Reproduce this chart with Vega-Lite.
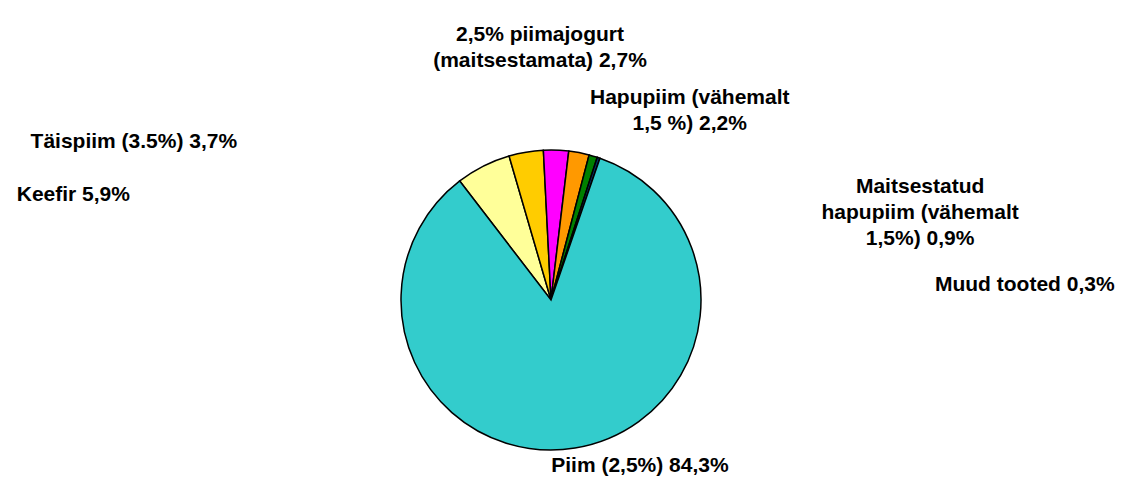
{
  "$schema": "https://vega.github.io/schema/vega-lite/v6.json",
  "width": 1102,
  "height": 354,
  "autosize": {"type": "none"},
  "padding": {"top": 123, "left": 0, "right": 21, "bottom": 0},
  "background": "white",
  "view": {"stroke": null},
  "data": {
    "values": [
      {"product": "Keefir", "value": 5.9, "rank": 1, "label": ["Keefir  5,9%"]},
      {"product": "Täispiim (3.5%)", "value": 3.7, "rank": 2, "label": ["Täispiim (3.5%) 3,7%"]},
      {"product": "2,5% piimajogurt (maitsestamata)", "value": 2.7, "rank": 3, "label": ["2,5% piimajogurt", "(maitsestamata) 2,7%"]},
      {"product": "Hapupiim (vähemalt 1,5 %)", "value": 2.2, "rank": 4, "label": ["Hapupiim (vähemalt", "1,5 %) 2,2%"]},
      {"product": "Maitsestatud hapupiim (vähemalt 1,5%)", "value": 0.9, "rank": 5, "label": ["Maitsestatud", "hapupiim (vähemalt", "1,5%) 0,9%"]},
      {"product": "Muud tooted", "value": 0.3, "rank": 6, "label": ["Muud tooted 0,3%"]},
      {"product": "Piim (2,5%)", "value": 84.3, "rank": 7, "label": ["Piim (2,5%) 84,3%"]}
    ]
  },
  "layer": [
    {
      "mark": {"type": "arc", "outerRadius": 150, "stroke": "black", "strokeWidth": 1.5},
      "encoding": {
        "theta": {"field": "value", "type": "quantitative", "stack": true, "scale": {"range": [-0.654, 5.629]}},
        "order": {"field": "rank", "type": "quantitative"},
        "color": {
          "field": "product",
          "type": "nominal",
          "legend": null,
          "scale": {
            "domain": ["Keefir", "Täispiim (3.5%)", "2,5% piimajogurt (maitsestamata)", "Hapupiim (vähemalt 1,5 %)", "Maitsestatud hapupiim (vähemalt 1,5%)", "Muud tooted", "Piim (2,5%)"],
            "range": ["#FFFF99", "#FFCC00", "#FF00FF", "#FF9900", "#008000", "#003366", "#33CCCC"]
          }
        }
      }
    },
    {
      "mark": {"type": "text", "font": "Liberation Sans", "fontWeight": "bold", "fontSize": 21, "lineHeight": 26, "align": "center", "baseline": "middle", "color": "black"},
      "encoding": {
        "theta": {"field": "rank", "type": "quantitative", "stack": null, "scale": {"type": "linear", "zero": false, "nice": false, "domain": [1, 2, 3, 4, 5, 6, 7], "range": [-1.355, -1.209, -0.0415, 0.602, 1.274, 1.539, 2.649]}},
        "radius": {"field": "rank", "type": "quantitative", "scale": {"type": "linear", "zero": false, "nice": false, "domain": [1, 2, 3, 4, 5, 6, 7], "range": [489, 446, 265, 245, 386, 474, 188]}},
        "text": {"field": "label"}
      }
    }
  ],
  "resolve": {"scale": {"theta": "independent", "radius": "independent"}}
}
